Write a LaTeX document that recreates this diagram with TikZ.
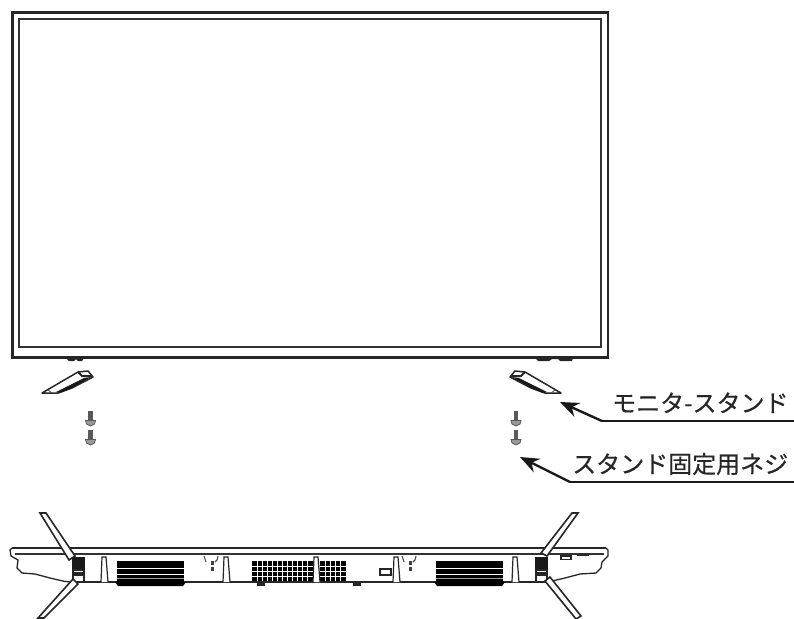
\documentclass[tikz,border=0pt]{standalone}
\usepackage{fontspec}
\usetikzlibrary{arrows.meta}
\newfontfamily\jpfont[FakeBold=0.35]{Noto Sans CJK JP}
\tikzset{
  x=1pt,y=-1pt,
  frameline/.style={line width=2.8pt,black!85},
  frameinner/.style={line width=2pt,black!80},
  labeltext/.style={font=\jpfont\fontsize{24}{26}\selectfont,inner sep=0pt,anchor=base west,text=black!85},
  leader/.style={line width=2.4pt,black!90},
  pointer/.style={leader,-{Stealth[length=19pt,width=15pt]}},
  body/.style={line width=1.3pt,black!85,line join=round},
  bar/.style={line width=2.2pt,black!85},
  leg/.style={line width=1.6pt,black!85,fill=white},
  screw/.style={line width=.8pt,black!65,fill=black!40},
}
\newcommand{\standfoot}{%
  \draw[line width=1.5pt,black!85,fill=white,line join=round] (42,393) -- (78,372) -- (88,371) -- (93,377) -- (72,388) -- (58,393) -- cycle;
  \fill[black!90] (56,392) -- (72,384) -- (84,378) -- (91,377) -- (72,388) -- (60,393) -- cycle;
  \draw[line width=2pt,black!85] (78,372) -- (82,376) -- (92,376);
  \draw[line width=.8pt,black!70] (48,390) -- (52,393);
}
\newcommand{\screwpair}[1]{%
  \foreach \yy in {411,430}{
    \fill[black!65] (#1-2.3,\yy) rectangle (#1+2.3,\yy+9);
    \draw[screw] (#1-5,\yy+9.5) -- (#1+5,\yy+9.5) -- (#1+4,\yy+13) -- (#1,\yy+15) -- (#1-4,\yy+13) -- cycle;
  }
}
\newcommand{\vent}[1]{%
  \fill[black] (#1,561) rectangle (#1+67,583);
  \fill[black] (#1-2,582) -- (#1+69,582) -- (#1+66,586) -- (#1+1,586) -- cycle;
  \draw[white,line width=.9pt] (#1,568.5) -- (#1+67,568.5) (#1,574) -- (#1+67,574);
  \draw[black!40,line width=.5pt] (#1,578.5) -- (#1+67,578.5);
}
\newcommand{\slotmark}[1]{%
  \draw[line width=1.2pt,black!85,fill=white] (#1,582) -- (#1+1,557) -- (#1+5,557) -- (#1+7,582);
}
\newcommand{\mountmark}[1]{%
  \fill[black!75] (#1+7,561) rectangle (#1+10,565);
  \fill[black!75] (#1+7,567) rectangle (#1+10,571);
  \draw[line width=1.1pt,black!70] (#1,556) -- (#1+2,562) (#1+14,556) -- (#1+13,560) -- (#1+11,562);
}
\newcommand{\gridvent}[3]{%
  \fill[black] (#1,561) rectangle (#2,581);
  \foreach \yy in {566,571,576} \draw[white,line width=.7pt] (#1,\yy) -- (#2,\yy);
  \foreach \xx in {#3} \draw[white,line width=.7pt] (\xx,561) -- (\xx,581);
}
\newcommand{\hinge}[1]{%
  \fill[black!90] (#1,557) rectangle (#1+13,570);
  \draw[line width=1.2pt,black!85,fill=white] (#1+1,570) rectangle (#1+12,582);
  \fill[black!85] (#1+2,572) rectangle (#1+11,576);
}
\begin{document}
\begin{tikzpicture}
\useasboundingbox (0,0) rectangle (794,618);
\fill[white] (0,0) rectangle (794,618);

% monitor front
\draw[frameline] (12.5,12.5) rectangle (608,357.5);
\draw[frameinner] (18.5,19) rectangle (601,347);
\fill[black!85] (66,358) -- (84,358) -- (82,361) -- (78,361) -- (76,359) -- (74,361) -- (69,361) -- cycle;
\fill[black!85] (535,358) -- (573,358) -- (572,361) -- (560,361) -- (558,359) -- (552,359) -- (549,361) -- (538,361) -- cycle;

% stands and screws
\standfoot
\begin{scope}[shift={(603,0)},xscale=-1]
\standfoot
\end{scope}
\screwpair{90.5}
\screwpair{516}

% labels
\node[labeltext] (standlabel) at (612,412) {モニタ-スタンド};
\node[labeltext] (screwlabel) at (572,473) {スタンド固定用ネジ};
\coordinate (standend) at (794,421);
\coordinate (standknee) at (602,421);
\coordinate (standtip) at (560,402);
\coordinate (screwend) at (794,482);
\coordinate (screwknee) at (570,482);
\coordinate (screwtip) at (520,457);
\draw[leader] (standend) -- (standknee);
\draw[pointer] (standknee) -- (standtip);
\draw[leader] (screwend) -- (screwknee);
\draw[pointer] (screwknee) -- (screwtip);

% bottom view: housing
\fill[white] (11,549) -- (607,549) -- (608,556) -- (602,562) -- (601,568) -- (596,573) -- (580,574) -- (565,578) -- (548,582) -- (70,582) -- (50,578) -- (35,574) -- (22,573) -- (17,568) -- (18,560) -- (11,555) -- cycle;
\draw[body] (76,582) -- (65,581.5) -- (50,578) -- (35,574) -- (22,573) -- (17,568) -- (18,560) -- (11,556) -- (10,550) -- (12,548);
\draw[body] (542,582) -- (550,581.5) -- (565,578) -- (580,574) -- (596,573) -- (601,568) -- (602,562) -- (608,556) -- (608,550) -- (606,548);
\draw[bar] (12,548) -- (606,548);
\draw[line width=1.2pt,black!80] (15,554) -- (604,554);
\draw[body] (80,582) -- (540,582);

\vent{117}
\vent{436}
\gridvent{252}{313}{257,262,267,272,277,282,287,292,297,302,307}
\gridvent{320}{346}{325,330,335,340}
\slotmark{101}
\slotmark{223}
\slotmark{313}
\slotmark{393}
\slotmark{512}
\mountmark{204}
\mountmark{402}
\fill[black!85] (257,582) rectangle (265,586);
\fill[black!85] (353,582) rectangle (361,586);
\draw[line width=2.4pt,black!85] (380,569) rectangle (391,575);
\draw[line width=1.1pt,black!85] (561,556) rectangle (571,559.5);
\draw[line width=1.4pt,black!85] (577,555) -- (589,555);

% hinges and legs
\hinge{72}
\hinge{535}
\draw[leg] (40,513) -- (46,513) -- (75,556) -- (69,560) -- cycle;
\draw[leg] (73,579) -- (78,584) -- (44,618) -- (38,618) -- cycle;
\draw[leg] (572,513) -- (578,513) -- (547,556) -- (541,553) -- cycle;
\draw[leg] (545,581) -- (550,577) -- (581,616) -- (576,619) -- cycle;
\end{tikzpicture}
\end{document}
